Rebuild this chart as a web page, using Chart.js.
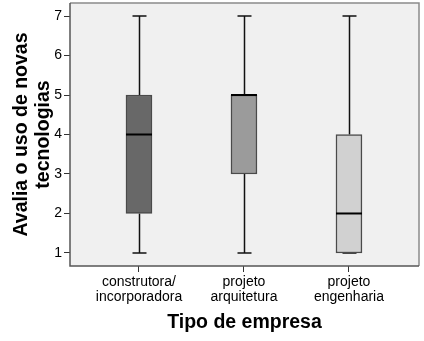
<!DOCTYPE html>
<html>
<head>
<meta charset="utf-8">
<script src="https://cdn.jsdelivr.net/npm/chart.js@4/dist/chart.umd.min.js"></script>
<style>
  html, body { margin: 0; padding: 0; background: #ffffff; }
  #wrap { width: 424px; height: 341px; position: relative; }
</style>
</head>
<body>
<div id="wrap"><canvas id="c" width="424" height="341"></canvas></div>
<script>
// Box-plot summary per company type
const categories = [["construtora/", "incorporadora"], ["projeto", "arquitetura"], ["projeto", "engenharia"]];
const minValues    = [1, 1, 1];
const q1Values     = [2, 3, 1];
const medianValues = [4, 5, 2];
const q3Values     = [5, 5, 4];
const maxValues    = [7, 7, 7];
const yTicks       = [1, 2, 3, 4, 5, 6, 7];
const boxColors    = ["#686868", "#9b9b9b", "#d1d1d1"];

const positions = categories.map((_, i) => i + 1);

// Whiskers, caps and medians drawn around the floating bars
const boxPlotExtras = {
  id: "boxPlotExtras",
  beforeDraw(chart) {
    const { ctx, chartArea: a } = chart;
    ctx.save();
    ctx.fillStyle = "#f0f0f0";
    ctx.fillRect(a.left, a.top, a.right - a.left, a.bottom - a.top);
    ctx.restore();
  },
  beforeDatasetsDraw(chart) {
    const { ctx, scales: { x, y } } = chart;
    ctx.save();
    ctx.strokeStyle = "#111111";
    ctx.lineWidth = 1.5;
    positions.forEach((p, i) => {
      const cx = Math.round(x.getPixelForValue(p)) + 0.5;
      const capHalf = 7;
      ctx.beginPath();
      ctx.moveTo(cx, y.getPixelForValue(minValues[i]));
      ctx.lineTo(cx, y.getPixelForValue(q1Values[i]));
      ctx.moveTo(cx, y.getPixelForValue(q3Values[i]));
      ctx.lineTo(cx, y.getPixelForValue(maxValues[i]));
      ctx.stroke();
      ctx.beginPath();
      ctx.moveTo(cx - capHalf, y.getPixelForValue(minValues[i]));
      ctx.lineTo(cx + capHalf, y.getPixelForValue(minValues[i]));
      ctx.moveTo(cx - capHalf, y.getPixelForValue(maxValues[i]));
      ctx.lineTo(cx + capHalf, y.getPixelForValue(maxValues[i]));
      ctx.stroke();
    });
    ctx.restore();
  },
  afterDatasetsDraw(chart) {
    const { ctx, scales: { x, y }, chartArea: a } = chart;
    ctx.save();
    ctx.strokeStyle = "#000000";
    ctx.lineWidth = 2;
    positions.forEach((p, i) => {
      const cx = x.getPixelForValue(p);
      const half = 13;
      const my = y.getPixelForValue(medianValues[i]);
      ctx.beginPath();
      ctx.moveTo(cx - half, my);
      ctx.lineTo(cx + half, my);
      ctx.stroke();
    });
    // plot frame
    ctx.lineWidth = 1.5;
    ctx.strokeStyle = "#8a8a8a";
    ctx.beginPath();
    ctx.moveTo(a.left, a.top);
    ctx.lineTo(a.right, a.top);
    ctx.lineTo(a.right, a.bottom);
    ctx.stroke();
    ctx.strokeStyle = "#555555";
    ctx.beginPath();
    ctx.moveTo(a.left, a.top);
    ctx.lineTo(a.left, a.bottom);
    ctx.lineTo(a.right, a.bottom);
    ctx.stroke();
    ctx.restore();
  }
};

new Chart(document.getElementById("c"), {
  type: "bar",
  data: {
    datasets: [{
      data: positions.map((p, i) => ({ x: p, y: [q1Values[i], q3Values[i]] })),
      backgroundColor: boxColors,
      borderColor: "#4a4a4a",
      borderWidth: 1.5,
      borderSkipped: false,
      barThickness: 26
    }]
  },
  options: {
    responsive: false,
    animation: false,
    layout: { padding: { left: 0, right: 5, top: 3, bottom: 0 } },
    plugins: { legend: { display: false }, tooltip: { enabled: false } },
    scales: {
      x: {
        type: "linear",
        offset: false,
        min: 0.343,
        max: 3.667,
        afterBuildTicks(scale) { scale.ticks = positions.map(v => ({ value: v })); },
        afterFit(scale) { scale.height = 75; scale.paddingLeft = 0; scale.paddingRight = 0; },
        ticks: {
          autoSkip: false,
          maxRotation: 0,
          padding: 2.5,
          color: "#000000",
          font: { family: "Liberation Sans, Arial", size: 14, lineHeight: 1.07 },
          callback: (v) => categories[Math.round(v) - 1]
        },
        grid: { display: true, offset: false, drawOnChartArea: false, drawTicks: true, tickLength: 6, color: "#333333", lineWidth: 1 },
        border: { display: false },
        title: {
          display: true,
          text: "Tipo de empresa",
          color: "#000000",
          font: { family: "Liberation Sans, Arial", size: 19.5, weight: "bold" },
          padding: { top: 6, bottom: 7 }
        }
      },
      y: {
        type: "linear",
        min: 0.67,
        max: 7.33,
        afterBuildTicks(scale) { scale.ticks = yTicks.map(v => ({ value: v })); },
        afterFit(scale) { scale.width = 70; scale.paddingTop = 0; scale.paddingBottom = 0; },
        ticks: {
          color: "#000000",
          padding: 2,
          font: { family: "Liberation Sans, Arial", size: 14 }
        },
        grid: { display: true, drawOnChartArea: false, drawTicks: true, tickLength: 6, color: "#333333", lineWidth: 1 },
        border: { display: false },
        title: {
          display: true,
          text: ["Avalia o uso de novas", "tecnologias"],
          color: "#000000",
          font: { family: "Liberation Sans, Arial", size: 19.5, weight: "bold", lineHeight: 1.12 },
          padding: { top: 11, bottom: 0 }
        }
      }
    }
  },
  plugins: [boxPlotExtras]
});
</script>
</body>
</html>
